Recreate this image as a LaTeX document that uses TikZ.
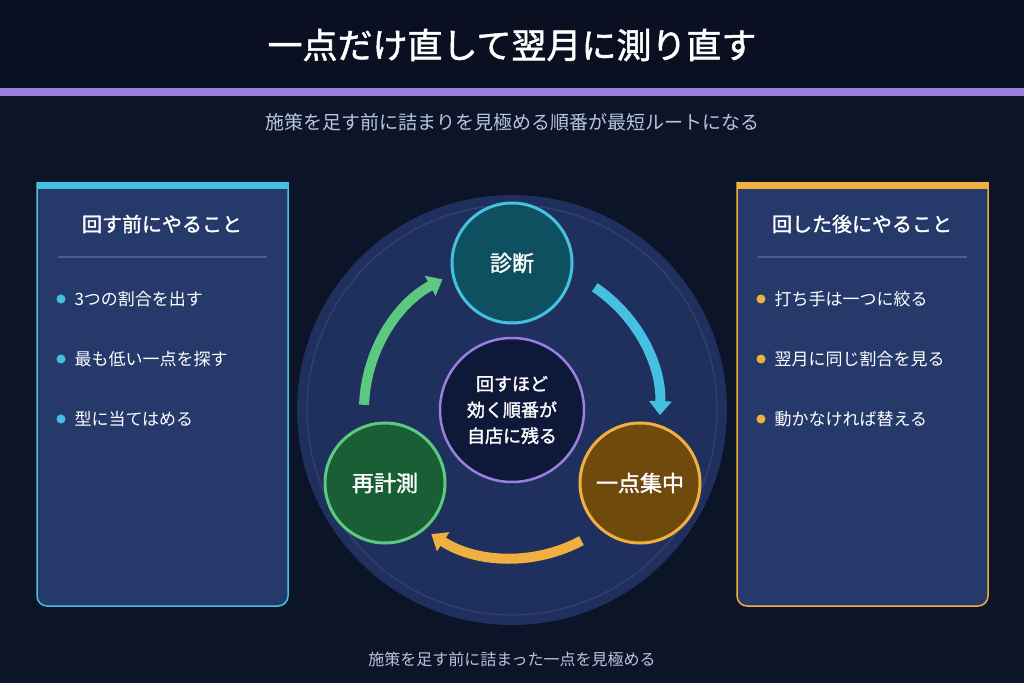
\documentclass[tikz,border=0pt]{standalone}
\usepackage{fontspec}
\setmainfont{Noto Sans CJK JP}
\newfontfamily\jpb{Noto Sans CJK JP}[FakeBold=1.5]
\usetikzlibrary{arrows.meta,calc}
\definecolor{bg}{HTML}{0C1428}
\definecolor{hdr}{HTML}{0A1022}
\definecolor{purp}{HTML}{9B7FE0}
\definecolor{sub}{HTML}{B8C4E0}
\definecolor{panel}{HTML}{253A6B}
\definecolor{cy}{HTML}{45C0E0}
\definecolor{orn}{HTML}{F0B040}
\definecolor{grn}{HTML}{5CC880}
\definecolor{sep}{HTML}{4A6090}
\definecolor{big}{HTML}{1F305E}
\begin{document}
\begin{tikzpicture}[x=1pt,y=1pt,
  pan/.style={fill=panel,draw=#1,line width=1.5pt,rounded corners=10pt},
  item/.style={text=white,font=\fontsize{17}{20}\selectfont,anchor=west},
  head/.style={text=white,font=\jpb\fontsize{20}{24}\selectfont},
  stage/.style={circle,minimum size=120pt,line width=3pt,text=white,font=\jpb\fontsize{22}{26}\selectfont,inner sep=0pt},
  flow/.style={line width=10pt,-{Triangle[length=14pt,width=22pt]}}]
\useasboundingbox (0,0) rectangle (1024,683);
\fill[bg] (0,0) rectangle (1024,683);
\fill[hdr] (0,595) rectangle (1024,683);
\fill[purp] (0,587) rectangle (1024,595);
\node[text=white,font=\jpb\fontsize{35}{40}\selectfont] (title) at (512,638) {一点だけ直して翌月に測り直す};
\node[text=sub,font=\fontsize{19}{22}\selectfont] (subt) at (512,561) {施策を足す前に詰まりを見極める順番が最短ルートになる};
% left panel
\draw[pan=cy] (37,501) -- (37,77) -- (288,77) -- (288,501);
\fill[cy] (37,494) rectangle (288,501);
\node[head] (lh) at (162,459) {回す前にやること};
\draw[sep,line width=1.5pt] (58,426) -- (267,426);
\foreach \t/\y [count=\i] in {3つの割合を出す/384,最も低い一点を探す/324,型に当てはめる/264}{
  \fill[cy] (61,\y) circle (4.5pt);
  \node[item] (l\i) at (71,\y) {\t};}
% right panel
\draw[pan=orn] (737,501) -- (737,77) -- (988,77) -- (988,501);
\fill[orn] (737,494) rectangle (988,501);
\node[head] (rh) at (862,459) {回した後にやること};
\draw[sep,line width=1.5pt] (758,426) -- (967,426);
\foreach \t/\y [count=\i] in {打ち手は一つに絞る/384,翌月に同じ割合を見る/324,動かなければ替える/264}{
  \fill[orn] (761,\y) circle (4.5pt);
  \node[item] (r\i) at (771,\y) {\t};}
% cycle
\coordinate (c) at (512,273);
\fill[big] (c) circle (215);
\draw[white,opacity=0.08,line width=1.5pt] (c) circle (205);
\draw[flow,cy] ($(c)+(56:148)$) arc (56:-2:148);
\draw[flow,orn] ($(c)+(-62:148)$) arc (-62:-123:148);
\draw[flow,grn] ($(c)+(178:148)$) arc (178:118:148);
\node[stage,fill={rgb,255:red,15;green,80;blue,96},draw=cy] (s1) at (512,420) {診断};
\node[stage,fill={rgb,255:red,110;green,74;blue,12},draw=orn] (s2) at (640,200) {一点集中};
\node[stage,fill={rgb,255:red,26;green,94;blue,53},draw=grn] (s3) at (385,200) {再計測};
\node[circle,minimum size=144pt,fill={rgb,255:red,14;green,24;blue,56},draw=purp,line width=2.5pt,text=white,align=center,font=\jpb\fontsize{18}{26}\selectfont] (core) at (c) {回すほど\\効く順番が\\自店に残る};
\node[text=sub,font=\fontsize{16}{20}\selectfont] (foot) at (512,24) {施策を足す前に詰まった一点を見極める};
\end{tikzpicture}
\end{document}
